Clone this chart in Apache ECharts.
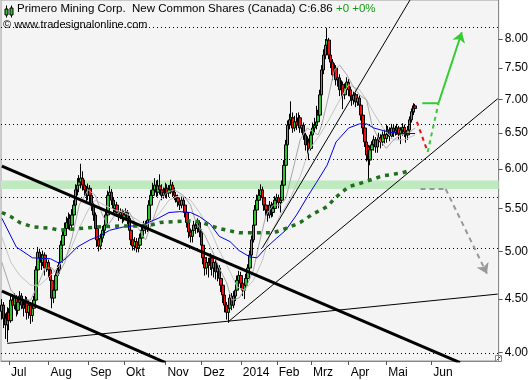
<!DOCTYPE html>
<html><head><meta charset="utf-8">
<script src="https://cdn.jsdelivr.net/npm/echarts@6/dist/echarts.min.js"></script>
<style>html,body{margin:0;padding:0;background:#fff}#c{width:531px;height:380px}</style>
</head><body><div id="c"></div>
<script>
// ---- axis data ----
const slotCount = 277;
const monthLabels = ['Jul','Aug','Sep','Okt','Nov','Dez','2014','Feb','Mrz','Apr','Mai','Jun'];
const monthStarts = [4, 26, 48, 68, 91, 111, 133, 153, 172, 193, 214, 239];
const yTicks = [4.00, 4.50, 5.00, 5.50, 6.00, 6.50, 7.00, 7.50, 8.00];

// ---- daily OHLC ----
const openP = [4.38,4.44,4.31,4.25,4.37,4.29,4.49,4.44,4.51,4.39,
4.47,4.53,4.44,4.41,4.49,4.37,4.44,4.34,4.41,4.49,
4.80,4.99,4.93,4.88,
4.96,4.82,4.88,4.80,4.69,
4.51,4.59,4.74,4.80,4.88,5.07,5.18,5.26,5.33,5.38,
5.30,5.42,5.54,5.73,5.79,5.83,5.88,5.79,5.73,5.66,
5.75,5.66,5.54,5.42,5.26,5.13,5.06,5.15,5.24,5.30,
5.42,5.66,5.70,5.60,5.50,5.54,
5.45,5.42,5.45,
5.38,5.42,5.45,5.38,5.24,5.13,5.06,5.11,5.04,5.07,
5.15,5.24,5.30,5.26,5.36,5.54,5.66,5.73,5.79,5.70,
5.78,5.73,5.66,5.70,5.75,5.69,5.73,5.79,
5.70,
5.66,5.63,5.58,5.54,5.60,5.54,5.45,5.33,5.22,5.17,
5.24,5.30,5.26,5.33,5.22,5.07,4.93,4.82,4.88,4.85,
4.93,4.82,4.88,4.78,4.82,4.71,4.64,4.54,4.44,4.37,
4.41,4.51,4.44,4.53,4.59,4.69,4.74,4.66,4.59,4.64,
4.71,4.82,4.96,5.13,5.30,5.48,5.60,5.66,5.73,5.63,
5.54,5.48,5.42,5.54,5.45,5.50,
5.60,5.63,5.57,
5.60,5.79,6.05,6.33,6.61,6.69,6.72,6.57,6.66,6.61,
6.72,6.57,6.61,6.47,6.33,6.37,6.28,6.47,6.57,6.61,
6.66,6.76,7.07,7.47,7.72,7.89,7.98,7.72,7.60,7.39,
7.50,7.31,7.34,7.15,7.23,7.07,7.18,7.27,
7.15,
7.05,6.99,7.07,6.96,7.02,6.91,6.76,6.57,6.37,6.30,
6.12,6.26,6.33,6.40,6.30,6.40,6.43,6.37,6.47,6.42,
6.48,6.54,6.45,6.57,6.51,6.54,6.57,6.48,6.54,6.58,
6.51,6.47,6.54,6.69,6.81,6.90];
const closeP = [4.44,4.31,4.25,4.37,4.29,4.49,4.44,4.51,4.39,4.47,
4.53,4.44,4.41,4.49,4.37,4.44,4.34,4.41,4.49,4.80,
4.99,4.93,4.88,4.96,
4.82,4.88,4.80,4.69,4.51,
4.59,4.74,4.80,4.88,5.07,5.18,5.26,5.33,5.38,5.30,
5.42,5.54,5.73,5.79,5.83,5.88,5.79,5.73,5.66,5.75,
5.66,5.54,5.42,5.26,5.13,5.06,5.15,5.24,5.30,5.42,
5.66,5.70,5.60,5.50,5.54,5.45,
5.42,5.45,5.38,
5.42,5.45,5.38,5.24,5.13,5.06,5.11,5.04,5.07,5.15,
5.24,5.30,5.26,5.36,5.54,5.66,5.73,5.79,5.70,5.78,
5.73,5.66,5.70,5.75,5.69,5.73,5.79,5.70,
5.66,
5.63,5.58,5.54,5.60,5.54,5.45,5.33,5.22,5.17,5.24,
5.30,5.26,5.33,5.22,5.07,4.93,4.82,4.88,4.85,4.93,
4.82,4.88,4.78,4.82,4.71,4.64,4.54,4.44,4.37,4.41,
4.51,4.44,4.53,4.59,4.69,4.74,4.66,4.59,4.64,4.71,
4.82,4.96,5.13,5.30,5.48,5.60,5.66,5.73,5.63,5.54,
5.48,5.42,5.54,5.45,5.50,5.60,
5.63,5.57,5.60,
5.79,6.05,6.33,6.61,6.69,6.72,6.57,6.66,6.61,6.72,
6.57,6.61,6.47,6.33,6.37,6.28,6.47,6.57,6.61,6.66,
6.76,7.07,7.47,7.72,7.89,7.98,7.72,7.60,7.39,7.50,
7.31,7.34,7.15,7.23,7.07,7.18,7.27,7.15,
7.05,
6.99,7.07,6.96,7.02,6.91,6.76,6.57,6.37,6.19,6.12,
6.26,6.33,6.40,6.30,6.40,6.43,6.37,6.47,6.42,6.48,
6.54,6.45,6.57,6.51,6.54,6.57,6.48,6.54,6.58,6.51,
6.47,6.54,6.69,6.81,6.90,6.86];
const lowP = [4.30,4.22,4.12,4.09,4.20,4.27,4.38,4.40,4.33,4.35,
4.42,4.40,4.33,4.37,4.30,4.31,4.26,4.28,4.36,4.47,
4.76,4.86,4.80,4.84,
4.74,4.78,4.72,4.62,4.41,
4.46,4.55,4.69,4.76,4.85,5.02,5.12,5.20,5.25,5.24,
5.26,5.36,5.50,5.66,5.70,5.75,5.72,5.65,5.58,5.60,
5.57,5.47,5.35,5.18,5.05,5.00,5.02,5.10,5.18,5.26,
5.40,5.60,5.54,5.44,5.45,5.40,
5.35,5.37,5.32,
5.34,5.37,5.31,5.18,5.07,5.01,5.01,4.99,4.99,5.03,
5.11,5.19,5.20,5.22,5.33,5.50,5.60,5.68,5.64,5.65,
5.67,5.60,5.62,5.64,5.62,5.64,5.68,5.64,
5.60,
5.57,5.52,5.48,5.50,5.49,5.39,5.27,5.15,5.10,5.10,
5.18,5.20,5.21,5.16,5.00,4.86,4.74,4.75,4.72,4.80,
4.74,4.72,4.70,4.68,4.64,4.57,4.46,4.37,4.30,4.27,
4.37,4.39,4.41,4.48,4.55,4.63,4.60,4.53,4.50,4.60,
4.68,4.79,4.93,5.10,5.27,5.44,5.54,5.60,5.56,5.47,
5.40,5.34,5.38,5.39,5.40,5.46,
5.50,5.50,5.45,
5.57,5.76,6.02,6.30,6.55,6.62,6.50,6.52,6.54,6.57,
6.50,6.50,6.40,6.25,6.20,6.12,6.25,6.42,6.50,6.55,
6.60,6.72,7.02,7.40,7.65,7.80,7.65,7.50,7.30,7.32,
7.22,7.20,7.05,7.03,6.85,7.00,7.10,7.05,
6.98,
6.90,6.92,6.88,6.90,6.84,6.68,6.48,6.30,6.10,5.87,
6.05,6.18,6.25,6.22,6.22,6.33,6.28,6.32,6.35,6.36,
6.42,6.38,6.42,6.44,6.46,6.47,6.40,6.34,6.46,6.44,
6.36,6.40,6.50,6.65,6.76,6.80];
const highP = [4.50,4.47,4.36,4.42,4.41,4.53,4.55,4.56,4.54,4.52,
4.58,4.56,4.50,4.53,4.52,4.48,4.47,4.45,4.53,4.84,
5.05,5.03,4.97,5.01,
4.99,4.93,4.91,4.83,4.72,
4.64,4.78,4.85,4.94,5.12,5.24,5.33,5.40,5.45,5.43,
5.49,5.60,5.80,5.88,5.92,6.07,5.97,5.86,5.78,5.81,
5.79,5.69,5.58,5.45,5.30,5.18,5.20,5.29,5.36,5.47,
5.72,5.78,5.74,5.64,5.60,5.58,
5.50,5.50,5.49,
5.47,5.50,5.48,5.41,5.27,5.17,5.16,5.15,5.12,5.20,
5.29,5.35,5.35,5.41,5.60,5.73,5.82,5.88,5.85,5.86,
5.93,5.80,5.76,5.82,5.80,5.79,5.86,5.83,
5.76,
5.70,5.67,5.62,5.65,5.64,5.58,5.48,5.36,5.26,5.30,
5.35,5.35,5.38,5.36,5.25,5.10,4.96,4.94,4.93,4.98,
4.96,4.93,4.91,4.87,4.85,4.75,4.67,4.58,4.47,4.45,
4.55,4.56,4.58,4.64,4.74,4.79,4.78,4.70,4.68,4.76,
4.86,5.01,5.18,5.35,5.54,5.67,5.74,5.80,5.77,5.66,
5.58,5.52,5.59,5.58,5.56,5.65,
5.68,5.67,5.65,
5.85,6.12,6.40,6.68,6.78,6.97,6.80,6.75,6.79,6.80,
6.76,6.68,6.65,6.50,6.45,6.42,6.52,6.65,6.72,6.90,
6.84,7.15,7.55,7.82,8.00,8.20,8.02,7.80,7.65,7.58,
7.55,7.45,7.40,7.30,7.28,7.25,7.35,7.32,
7.20,
7.10,7.12,7.10,7.08,7.06,6.95,6.80,6.60,6.40,6.33,
6.32,6.38,6.46,6.44,6.46,6.50,6.48,6.52,6.55,6.62,
6.60,6.58,6.63,6.62,6.60,6.63,6.60,6.58,6.64,6.62,
6.56,6.60,6.74,6.86,6.94,6.93];

// ---- indicator lines: [slot, price] ----
const maShort = [[0,4.88],[5,4.59],[10,4.49],[16,4.49],[20,4.64],[24,4.82],[28,4.82],[31,4.74],[35,4.88],[39,5.15],[43,5.54],[48,5.73],[52,5.66],[56,5.42],[59,5.30],[63,5.42],[67,5.48],[71,5.45],[76,5.26],[80,5.13],[83,5.30],[88,5.60],[92,5.70],[96,5.73],[101,5.66],[105,5.54],[108,5.33],[113,5.18],[117,5.01],[121,4.82],[125,4.67],[128,4.49],[132,4.51],[136,4.62],[140,4.80],[143,5.07],[147,5.42],[151,5.54],[155,5.54],[158,5.62],[162,5.99],[166,6.40],[170,6.57],[173,6.52],[176,6.47],[178,6.61],[182,7.07],[185,7.47],[188,7.55],[192,7.39],[195,7.23],[199,7.07],[203,6.99],[206,6.61],[210,6.40],[214,6.28],[218,6.40],[222,6.47],[227,6.51],[230,6.57]];
const maMid = [[0,5.16],[5,4.88],[10,4.74],[16,4.64],[21,4.64],[27,4.74],[32,4.85],[38,5.01],[43,5.26],[48,5.48],[52,5.60],[57,5.54],[63,5.48],[68,5.45],[74,5.38],[80,5.30],[83,5.33],[88,5.45],[93,5.60],[99,5.66],[105,5.60],[110,5.45],[116,5.24],[121,5.01],[127,4.78],[131,4.62],[135,4.59],[140,4.69],[145,4.90],[149,5.18],[155,5.42],[160,5.60],[166,5.90],[171,6.26],[177,6.47],[182,6.69],[188,6.99],[193,7.23],[199,7.15],[203,6.99],[207,6.79],[213,6.54],[218,6.40],[224,6.40],[230,6.47]];
const maBlue = [[0,5.38],[8,5.05],[17,4.93],[27,4.92],[32,4.87],[36,4.93],[42,5.05],[49,5.13],[55,5.18],[60,5.24],[68,5.28],[78,5.30],[87,5.38],[93,5.45],[99,5.46],[105,5.45],[110,5.40],[116,5.31],[121,5.17],[127,5.11],[132,5.01],[138,4.94],[142,4.93],[147,5.04],[153,5.15],[158,5.24],[164,5.42],[170,5.64],[175,5.82],[181,6.05],[186,6.37],[193,6.57],[199,6.63],[203,6.63],[207,6.57],[214,6.52],[221,6.49],[230,6.49]];
const maLong = [[0,5.45],[5,5.40],[10,5.33],[17,5.28],[28,5.26],[32,5.24],[43,5.26],[55,5.28],[66,5.29],[81,5.29],[88,5.33],[103,5.35],[110,5.34],[121,5.26],[132,5.21],[143,5.21],[151,5.21],[158,5.26],[166,5.33],[173,5.43],[181,5.52],[186,5.64],[193,5.77],[199,5.81],[212,5.91],[223,5.95],[227,5.98]];

// ---- drawn analysis objects ----
const levelLines = [8.21, 6.63, 6.13, 5.64, 5.03, 3.99];
const zoneBand = [5.74, 5.85];
const thickTrends = [[[0,6.04],[255,3.91]], [[0,4.58],[91,3.91]]];
const thinTrends = [[[3,4.08],[276,4.55]], [[126,4.28],[276,7.01]], [[145,5.04],[228,8.77]]];
const projRed = [[231,6.66],[237,6.23]];
const projGreenDash = [[237,6.23],[243,6.94]];
const projGreenFlat = [[234,6.94],[243,6.94]];
const projGreenArrow = [[243,6.94],[256,8.12]];
const projGrayFlat = [[233,5.74],[247,5.74]];
const projGrayArrow = [[247,5.74],[270,4.76]];

const FONT = 'Liberation Sans';
const cats = Array.from({length: slotCount}, (_, i) => String(i));
const monthOf = {};
monthStarts.forEach((s, k) => { monthOf[s] = monthLabels[k]; });
const candles = openP.map((o, i) => [o, closeP[i], lowP[i], highP[i]]);

function lineSeries(data, color, width, type, z, extra) {
  return Object.assign({
    type: 'line', data: data, symbol: 'none', silent: true, animation: false,
    lineStyle: {color: color, width: width, type: type || 'solid'}, z: z || 4
  }, extra || {});
}

const series = [];
series.push({
  type: 'line', data: [], silent: true, animation: false, z: 1,
  markArea: {silent: true, itemStyle: {color: '#bfe9bf'}, data: [[{yAxis: zoneBand[0]}, {yAxis: zoneBand[1]}]]},
  markLine: {silent: true, symbol: 'none', label: {show: false}, animation: false,
    lineStyle: {color: '#000', width: 1, type: [1, 3]},
    data: levelLines.map(v => ({yAxis: v}))}
});
series.push({
  type: 'candlestick', data: candles, barWidth: 3, z: 2, animation: false, silent: true,
  itemStyle: {color: '#2fc42f', color0: '#ee1111', borderColor: '#000', borderColor0: '#000', borderWidth: 1}
});
series.push(lineSeries(maMid, '#c4c4c4', 1, 'solid', 3));
series.push(lineSeries(maShort, '#a6a6a6', 1, 'solid', 3));
series.push(lineSeries(maBlue, '#0000ee', 1, 'solid', 3));
series.push(lineSeries(maLong, '#1f6f1f', 3.5, [4, 5], 3, {}));
thickTrends.forEach(t => series.push(lineSeries(t, '#000', 3, 'solid', 4)));
thinTrends.forEach(t => series.push(lineSeries(t, '#000', 1, 'solid', 4)));
series.push(lineSeries(projRed, '#ee1111', 2, [4, 4], 5));
series.push(lineSeries(projGreenDash, '#33cc33', 2, [4, 4], 5));
series.push(lineSeries(projGreenFlat, '#33cc33', 2, 'solid', 5));
series.push(lineSeries(projGrayFlat, '#999999', 2, [5, 4], 5));
series.push({
  type: 'line', data: [], silent: true, animation: false, z: 5,
  markLine: {silent: true, animation: false, symbol: ['none', 'arrow'], symbolSize: 10, label: {show: false},
    data: [
      [{coord: projGreenArrow[0], lineStyle: {color: '#33cc33', width: 2, type: 'solid'}, itemStyle: {color: '#33cc33'}}, {coord: projGreenArrow[1]}],
      [{coord: projGrayArrow[0], lineStyle: {color: '#999999', width: 2, type: [5, 4]}, itemStyle: {color: '#999999'}}, {coord: projGrayArrow[1]}]
    ]}
});

const chart = echarts.init(document.getElementById('c'), null, {renderer: 'canvas'});
chart.setOption({
  backgroundColor: '#ffffff',
  animation: false,
  grid: {left: 1, right: 31, top: 0, bottom: 19, show: true, backgroundColor: '#f4f4f4', borderColor: '#999', borderWidth: 1},
  xAxis: {
    type: 'category', data: cats, boundaryGap: true,
    axisLine: {lineStyle: {color: '#888'}},
    axisTick: {show: true, alignWithLabel: true, length: 4, lineStyle: {color: '#555'}, interval: (i) => monthOf[i] !== undefined},
    axisLabel: {interval: (i) => monthOf[i] !== undefined, formatter: (v, i) => monthOf[i] || '', align: 'left', padding: [0, 0, 0, 2],
      margin: 6, color: '#000', fontFamily: FONT, fontSize: 12},
    splitLine: {show: false}
  },
  yAxis: {
    type: 'log', logBase: 10, position: 'right', min: 3.924, max: 8.72,
    axisLine: {show: true, lineStyle: {color: '#888'}},
    axisTick: {show: true, length: 4, lineStyle: {color: '#555'}, customValues: yTicks},
    axisLabel: {customValues: yTicks, formatter: v => v.toFixed(2), margin: 6, color: '#000', fontFamily: FONT, fontSize: 12},
    splitLine: {show: false}
  },
  series: series,
  graphic: [
    {type: 'group', left: 4, top: 3, silent: true, children: [
      {type: 'line', shape: {x1: 2, y1: 0, x2: 2, y2: 12}, style: {stroke: '#000', lineWidth: 1}},
      {type: 'rect', shape: {x: 0.5, y: 3.5, width: 3, height: 6}, style: {fill: '#2fc42f', stroke: '#000', lineWidth: 1}},
      {type: 'line', shape: {x1: 7, y1: 0, x2: 7, y2: 12}, style: {stroke: '#000', lineWidth: 1}},
      {type: 'rect', shape: {x: 5.5, y: 2.5, width: 3, height: 7}, style: {fill: '#2fc42f', stroke: '#000', lineWidth: 1}}
    ]},
    {type: 'text', left: 17, top: 3, silent: true, style: {
      text: '{b|Primero Mining Corp.  New Common Shares (Canada) C:6.86 }{g|+0 +0%}',
      rich: {b: {fill: '#000', font: '11.5px "' + FONT + '"'}, g: {fill: '#11a011', font: '11.5px "' + FONT + '"'}}}},
    {type: 'text', left: 3, top: 19, silent: true, style: {text: '\u00a9 www.tradesignalonline.com', fill: '#000', font: '11px "' + FONT + '"'}},
    {type: 'group', left: 494, top: 354, silent: true, children: [
      {type: 'rect', shape: {x: 0.5, y: 0.5, width: 6, height: 6}, style: {fill: '#fff', stroke: '#888', lineWidth: 1}},
      {type: 'line', shape: {x1: 1.5, y1: 5.5, x2: 5.5, y2: 1.5}, style: {stroke: '#444', lineWidth: 1}}
    ]}
  ]
});
</script>
</body></html>
